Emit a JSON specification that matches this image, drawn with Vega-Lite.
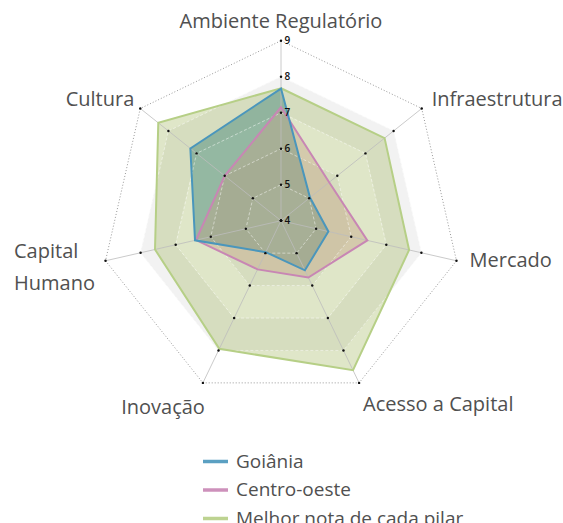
{
  "$schema": "https://vega.github.io/schema/vega-lite/v6.json",
  "width": 563,
  "height": 523,
  "autosize": {"type": "none"},
  "padding": 0,
  "background": "#ffffff",
  "config": {"view": {"stroke": null}},
  "datasets": {
    "scores": [
      {"serie": "Goiânia", "pilar": "Ambiente Regulatório", "idx": 0, "valor": 7.67},
      {"serie": "Goiânia", "pilar": "Infraestrutura", "idx": 1, "valor": 5.03},
      {"serie": "Goiânia", "pilar": "Mercado", "idx": 2, "valor": 5.35},
      {"serie": "Goiânia", "pilar": "Acesso a Capital", "idx": 3, "valor": 5.53},
      {"serie": "Goiânia", "pilar": "Inovação", "idx": 4, "valor": 4.97},
      {"serie": "Goiânia", "pilar": "Capital Humano", "idx": 5, "valor": 6.45},
      {"serie": "Goiânia", "pilar": "Cultura", "idx": 6, "valor": 7.22},
      {"serie": "Centro-oeste", "pilar": "Ambiente Regulatório", "idx": 0, "valor": 7.15},
      {"serie": "Centro-oeste", "pilar": "Infraestrutura", "idx": 1, "valor": 5.71},
      {"serie": "Centro-oeste", "pilar": "Mercado", "idx": 2, "valor": 6.46},
      {"serie": "Centro-oeste", "pilar": "Acesso a Capital", "idx": 3, "valor": 5.75},
      {"serie": "Centro-oeste", "pilar": "Inovação", "idx": 4, "valor": 5.5},
      {"serie": "Centro-oeste", "pilar": "Capital Humano", "idx": 5, "valor": 6.42},
      {"serie": "Centro-oeste", "pilar": "Cultura", "idx": 6, "valor": 6.0},
      {"serie": "Melhor nota de cada pilar", "pilar": "Ambiente Regulatório", "idx": 0, "valor": 7.68},
      {"serie": "Melhor nota de cada pilar", "pilar": "Infraestrutura", "idx": 1, "valor": 7.68},
      {"serie": "Melhor nota de cada pilar", "pilar": "Mercado", "idx": 2, "valor": 7.65},
      {"serie": "Melhor nota de cada pilar", "pilar": "Acesso a Capital", "idx": 3, "valor": 8.61},
      {"serie": "Melhor nota de cada pilar", "pilar": "Inovação", "idx": 4, "valor": 7.95},
      {"serie": "Melhor nota de cada pilar", "pilar": "Capital Humano", "idx": 5, "valor": 7.59},
      {"serie": "Melhor nota de cada pilar", "pilar": "Cultura", "idx": 6, "valor": 8.36}
    ],
    "pilares": [
      {"idx": 0, "pilar": "Ambiente Regulatório", "rings": [4, 5, 6, 7, 8, 9]},
      {"idx": 1, "pilar": "Infraestrutura", "rings": [4, 5, 6, 7, 8, 9]},
      {"idx": 2, "pilar": "Mercado", "rings": [4, 5, 6, 7, 8, 9]},
      {"idx": 3, "pilar": "Acesso a Capital", "rings": [4, 5, 6, 7, 8, 9]},
      {"idx": 4, "pilar": "Inovação", "rings": [4, 5, 6, 7, 8, 9]},
      {"idx": 5, "pilar": "Capital Humano", "rings": [4, 5, 6, 7, 8, 9]},
      {"idx": 6, "pilar": "Cultura", "rings": [4, 5, 6, 7, 8, 9]}
    ]
  },
  "layer": [
    {
      "data": {"name": "pilares"},
      "transform": [
        {"flatten": ["rings"], "as": ["ring"]},
        {"filter": "datum.ring == 8"},
        {"calculate": "datum.idx*2*PI/7", "as": "a"},
        {"calculate": "(datum.ring-4)*sin(datum.a)", "as": "px"},
        {"calculate": "(datum.ring-4)*cos(datum.a)", "as": "py"}
      ],
      "mark": {"type": "line", "interpolate": "linear-closed", "fill": "#f2f2f2", "stroke": "#f2f2f2", "strokeWidth": 0.5},
      "encoding": {
        "x": {"field": "px", "type": "quantitative", "scale": {"domain": [-7.8056, 7.8333], "nice": false, "zero": false}, "axis": null},
        "y": {"field": "py", "type": "quantitative", "scale": {"domain": [-8.397, 6.131], "nice": false, "zero": false}, "axis": null},
        "order": {"field": "idx", "type": "quantitative"}
      }
    },
    {
      "data": {"name": "pilares"},
      "transform": [
        {"flatten": ["rings"], "as": ["ring"]},
        {"filter": "datum.ring == 7"},
        {"calculate": "datum.idx*2*PI/7", "as": "a"},
        {"calculate": "(datum.ring-4)*sin(datum.a)", "as": "px"},
        {"calculate": "(datum.ring-4)*cos(datum.a)", "as": "py"}
      ],
      "mark": {"type": "line", "interpolate": "linear-closed", "fill": "#ffffff", "stroke": "#ffffff", "strokeWidth": 0.5},
      "encoding": {
        "x": {"field": "px", "type": "quantitative", "axis": null},
        "y": {"field": "py", "type": "quantitative", "axis": null},
        "order": {"field": "idx", "type": "quantitative"}
      }
    },
    {
      "data": {"name": "pilares"},
      "transform": [
        {"flatten": ["rings"], "as": ["ring"]},
        {"filter": "datum.ring == 6"},
        {"calculate": "datum.idx*2*PI/7", "as": "a"},
        {"calculate": "(datum.ring-4)*sin(datum.a)", "as": "px"},
        {"calculate": "(datum.ring-4)*cos(datum.a)", "as": "py"}
      ],
      "mark": {"type": "line", "interpolate": "linear-closed", "fill": "#f2f2f2", "stroke": "#f2f2f2", "strokeWidth": 0.5},
      "encoding": {
        "x": {"field": "px", "type": "quantitative", "axis": null},
        "y": {"field": "py", "type": "quantitative", "axis": null},
        "order": {"field": "idx", "type": "quantitative"}
      }
    },
    {
      "data": {"name": "pilares"},
      "transform": [
        {"flatten": ["rings"], "as": ["ring"]},
        {"filter": "datum.ring == 5"},
        {"calculate": "datum.idx*2*PI/7", "as": "a"},
        {"calculate": "(datum.ring-4)*sin(datum.a)", "as": "px"},
        {"calculate": "(datum.ring-4)*cos(datum.a)", "as": "py"}
      ],
      "mark": {"type": "line", "interpolate": "linear-closed", "fill": "#ffffff", "stroke": "#ffffff", "strokeWidth": 0.5},
      "encoding": {
        "x": {"field": "px", "type": "quantitative", "axis": null},
        "y": {"field": "py", "type": "quantitative", "axis": null},
        "order": {"field": "idx", "type": "quantitative"}
      }
    },
    {
      "data": {"name": "scores"},
      "transform": [
        {"filter": "datum.serie == 'Goiânia'"},
        {"calculate": "datum.idx*2*PI/7", "as": "a"},
        {"calculate": "(datum.valor-4)*sin(datum.a)", "as": "px"},
        {"calculate": "(datum.valor-4)*cos(datum.a)", "as": "py"}
      ],
      "mark": {"type": "line", "interpolate": "linear-closed", "fill": "#2f7f95", "fillOpacity": 0.55, "strokeWidth": 0},
      "encoding": {
        "x": {"field": "px", "type": "quantitative", "axis": null},
        "y": {"field": "py", "type": "quantitative", "axis": null},
        "order": {"field": "idx", "type": "quantitative"}
      }
    },
    {
      "data": {"name": "scores"},
      "transform": [
        {"filter": "datum.serie == 'Centro-oeste'"},
        {"calculate": "datum.idx*2*PI/7", "as": "a"},
        {"calculate": "(datum.valor-4)*sin(datum.a)", "as": "px"},
        {"calculate": "(datum.valor-4)*cos(datum.a)", "as": "py"}
      ],
      "mark": {"type": "line", "interpolate": "linear-closed", "fill": "#d79696", "fillOpacity": 0.4, "strokeWidth": 0},
      "encoding": {
        "x": {"field": "px", "type": "quantitative", "axis": null},
        "y": {"field": "py", "type": "quantitative", "axis": null},
        "order": {"field": "idx", "type": "quantitative"}
      }
    },
    {
      "data": {"name": "scores"},
      "transform": [
        {"filter": "datum.serie == 'Melhor nota de cada pilar'"},
        {"calculate": "datum.idx*2*PI/7", "as": "a"},
        {"calculate": "(datum.valor-4)*sin(datum.a)", "as": "px"},
        {"calculate": "(datum.valor-4)*cos(datum.a)", "as": "py"}
      ],
      "mark": {"type": "line", "interpolate": "linear-closed", "fill": "#a4b862", "fillOpacity": 0.35, "strokeWidth": 0},
      "encoding": {
        "x": {"field": "px", "type": "quantitative", "axis": null},
        "y": {"field": "py", "type": "quantitative", "axis": null},
        "order": {"field": "idx", "type": "quantitative"}
      }
    },
    {
      "data": {"name": "pilares"},
      "transform": [
        {"calculate": "datum.idx*2*PI/7", "as": "a"},
        {"calculate": "0", "as": "ox"},
        {"calculate": "0", "as": "oy"},
        {"calculate": "5*sin(datum.a)", "as": "sx"},
        {"calculate": "5*cos(datum.a)", "as": "sy"}
      ],
      "mark": {"type": "rule", "color": "#bdbdbd", "strokeWidth": 0.8},
      "encoding": {
        "x": {"field": "ox", "type": "quantitative", "axis": null},
        "y": {"field": "oy", "type": "quantitative", "axis": null},
        "x2": {"field": "sx"},
        "y2": {"field": "sy"}
      }
    },
    {
      "data": {"name": "pilares"},
      "transform": [
        {"flatten": ["rings"], "as": ["ring"]},
        {"filter": "datum.ring >= 5 && datum.ring <= 8"},
        {"calculate": "datum.idx*2*PI/7", "as": "a"},
        {"calculate": "(datum.ring-4)*sin(datum.a)", "as": "px"},
        {"calculate": "(datum.ring-4)*cos(datum.a)", "as": "py"}
      ],
      "mark": {"type": "line", "interpolate": "linear-closed", "color": "#ffffff", "strokeWidth": 0.8, "strokeDash": [3, 2], "opacity": 0.6},
      "encoding": {
        "x": {"field": "px", "type": "quantitative", "axis": null},
        "y": {"field": "py", "type": "quantitative", "axis": null},
        "detail": {"field": "ring", "type": "nominal"},
        "order": {"field": "idx", "type": "quantitative"}
      }
    },
    {
      "data": {"name": "pilares"},
      "transform": [
        {"flatten": ["rings"], "as": ["ring"]},
        {"filter": "datum.ring == 9"},
        {"calculate": "datum.idx*2*PI/7", "as": "a"},
        {"calculate": "(datum.ring-4)*sin(datum.a)", "as": "px"},
        {"calculate": "(datum.ring-4)*cos(datum.a)", "as": "py"}
      ],
      "mark": {"type": "line", "interpolate": "linear-closed", "color": "#999999", "strokeWidth": 1, "strokeDash": [1, 2]},
      "encoding": {
        "x": {"field": "px", "type": "quantitative", "axis": null},
        "y": {"field": "py", "type": "quantitative", "axis": null},
        "order": {"field": "idx", "type": "quantitative"}
      }
    },
    {
      "data": {"name": "scores"},
      "transform": [
        {"filter": "datum.serie == 'Melhor nota de cada pilar'"},
        {"calculate": "datum.idx*2*PI/7", "as": "a"},
        {"calculate": "(datum.valor-4)*sin(datum.a)", "as": "px"},
        {"calculate": "(datum.valor-4)*cos(datum.a)", "as": "py"}
      ],
      "mark": {"type": "line", "interpolate": "linear-closed", "strokeWidth": 2},
      "encoding": {
        "x": {"field": "px", "type": "quantitative", "axis": null},
        "y": {"field": "py", "type": "quantitative", "axis": null},
        "order": {"field": "idx", "type": "quantitative"},
        "color": {
          "field": "serie", "type": "nominal",
          "scale": {"domain": ["Goiânia", "Centro-oeste", "Melhor nota de cada pilar"], "range": ["#4a96bc", "#c886b4", "#b6cf86"]},
          "legend": {
            "title": null, "orient": "none", "legendX": 201, "legendY": 447,
            "symbolType": "stroke", "symbolSize": 625, "symbolStrokeWidth": 3.5,
            "labelFont": "Open Sans", "labelFontSize": 19, "labelFontWeight": 500, "labelColor": "#505050",
            "labelOffset": 6, "labelLimit": 400, "rowPadding": 3.5, "padding": 0, "symbolOpacity": 0.9
          }
        }
      }
    },
    {
      "data": {"name": "scores"},
      "transform": [
        {"filter": "datum.serie == 'Centro-oeste'"},
        {"calculate": "datum.idx*2*PI/7", "as": "a"},
        {"calculate": "(datum.valor-4)*sin(datum.a)", "as": "px"},
        {"calculate": "(datum.valor-4)*cos(datum.a)", "as": "py"}
      ],
      "mark": {"type": "line", "interpolate": "linear-closed", "strokeWidth": 2},
      "encoding": {
        "x": {"field": "px", "type": "quantitative", "axis": null},
        "y": {"field": "py", "type": "quantitative", "axis": null},
        "order": {"field": "idx", "type": "quantitative"},
        "color": {"field": "serie", "type": "nominal"}
      }
    },
    {
      "data": {"name": "scores"},
      "transform": [
        {"filter": "datum.serie == 'Goiânia'"},
        {"calculate": "datum.idx*2*PI/7", "as": "a"},
        {"calculate": "(datum.valor-4)*sin(datum.a)", "as": "px"},
        {"calculate": "(datum.valor-4)*cos(datum.a)", "as": "py"}
      ],
      "mark": {"type": "line", "interpolate": "linear-closed", "strokeWidth": 2},
      "encoding": {
        "x": {"field": "px", "type": "quantitative", "axis": null},
        "y": {"field": "py", "type": "quantitative", "axis": null},
        "order": {"field": "idx", "type": "quantitative"},
        "color": {"field": "serie", "type": "nominal"}
      }
    },
    {
      "data": {"name": "pilares"},
      "transform": [
        {"flatten": ["rings"], "as": ["ring"]},
        {"calculate": "datum.idx*2*PI/7", "as": "a"},
        {"calculate": "(datum.ring-4)*sin(datum.a)", "as": "px"},
        {"calculate": "(datum.ring-4)*cos(datum.a)", "as": "py"}
      ],
      "mark": {"type": "point", "filled": true, "color": "#111111", "size": 6, "opacity": 1},
      "encoding": {
        "x": {"field": "px", "type": "quantitative", "axis": null},
        "y": {"field": "py", "type": "quantitative", "axis": null}
      }
    },
    {
      "data": {"name": "pilares"},
      "transform": [
        {"filter": "datum.idx == 0"},
        {"flatten": ["rings"], "as": ["ring"]},
        {"calculate": "0", "as": "px"},
        {"calculate": "datum.ring-4", "as": "py"}
      ],
      "mark": {"type": "text", "align": "left", "baseline": "middle", "dx": 3.5, "font": "Open Sans", "fontSize": 10, "fontWeight": 600, "color": "#111111"},
      "encoding": {
        "x": {"field": "px", "type": "quantitative", "axis": null},
        "y": {"field": "py", "type": "quantitative", "axis": null},
        "text": {"field": "ring", "type": "nominal"}
      }
    },
    {
      "data": {"name": "pilares"},
      "transform": [
        {"filter": "datum.idx == 0"},
        {"calculate": "datum.idx*2*PI/7", "as": "a"},
        {"calculate": "5*sin(datum.a)", "as": "px"},
        {"calculate": "5*cos(datum.a)", "as": "py"}
      ],
      "mark": {"type": "text", "align": "center", "baseline": "middle", "dy": -19, "font": "Open Sans", "fontSize": 20, "fontWeight": 500, "color": "#505050"},
      "encoding": {
        "x": {"field": "px", "type": "quantitative", "axis": null},
        "y": {"field": "py", "type": "quantitative", "axis": null},
        "text": {"field": "pilar", "type": "nominal"}
      }
    },
    {
      "data": {"name": "pilares"},
      "transform": [
        {"filter": "datum.idx == 1"},
        {"calculate": "datum.idx*2*PI/7", "as": "a"},
        {"calculate": "5*sin(datum.a)", "as": "px"},
        {"calculate": "5*cos(datum.a)", "as": "py"}
      ],
      "mark": {"type": "text", "align": "left", "baseline": "middle", "dx": 10, "dy": -8, "font": "Open Sans", "fontSize": 20, "fontWeight": 500, "color": "#505050"},
      "encoding": {
        "x": {"field": "px", "type": "quantitative", "axis": null},
        "y": {"field": "py", "type": "quantitative", "axis": null},
        "text": {"field": "pilar", "type": "nominal"}
      }
    },
    {
      "data": {"name": "pilares"},
      "transform": [
        {"filter": "datum.idx == 2"},
        {"calculate": "datum.idx*2*PI/7", "as": "a"},
        {"calculate": "5*sin(datum.a)", "as": "px"},
        {"calculate": "5*cos(datum.a)", "as": "py"}
      ],
      "mark": {"type": "text", "align": "left", "baseline": "middle", "dx": 13, "dy": 0, "font": "Open Sans", "fontSize": 20, "fontWeight": 500, "color": "#505050"},
      "encoding": {
        "x": {"field": "px", "type": "quantitative", "axis": null},
        "y": {"field": "py", "type": "quantitative", "axis": null},
        "text": {"field": "pilar", "type": "nominal"}
      }
    },
    {
      "data": {"name": "pilares"},
      "transform": [
        {"filter": "datum.idx == 3"},
        {"calculate": "datum.idx*2*PI/7", "as": "a"},
        {"calculate": "5*sin(datum.a)", "as": "px"},
        {"calculate": "5*cos(datum.a)", "as": "py"}
      ],
      "mark": {"type": "text", "align": "left", "baseline": "middle", "dx": 4, "dy": 22, "font": "Open Sans", "fontSize": 20, "fontWeight": 500, "color": "#505050"},
      "encoding": {
        "x": {"field": "px", "type": "quantitative", "axis": null},
        "y": {"field": "py", "type": "quantitative", "axis": null},
        "text": {"field": "pilar", "type": "nominal"}
      }
    },
    {
      "data": {"name": "pilares"},
      "transform": [
        {"filter": "datum.idx == 4"},
        {"calculate": "datum.idx*2*PI/7", "as": "a"},
        {"calculate": "5*sin(datum.a)", "as": "px"},
        {"calculate": "5*cos(datum.a)", "as": "py"}
      ],
      "mark": {"type": "text", "align": "right", "baseline": "middle", "dx": 2, "dy": 25, "font": "Open Sans", "fontSize": 20, "fontWeight": 500, "color": "#505050"},
      "encoding": {
        "x": {"field": "px", "type": "quantitative", "axis": null},
        "y": {"field": "py", "type": "quantitative", "axis": null},
        "text": {"field": "pilar", "type": "nominal"}
      }
    },
    {
      "data": {"name": "pilares"},
      "transform": [
        {"filter": "datum.idx == 5"},
        {"calculate": "datum.idx*2*PI/7", "as": "a"},
        {"calculate": "5*sin(datum.a)", "as": "px"},
        {"calculate": "5*cos(datum.a)", "as": "py"}
      ],
      "mark": {"type": "text", "align": "left", "baseline": "middle", "dx": -91.5, "dy": -9, "lineBreak": " ", "lineHeight": 32, "font": "Open Sans", "fontSize": 20, "fontWeight": 500, "color": "#505050"},
      "encoding": {
        "x": {"field": "px", "type": "quantitative", "axis": null},
        "y": {"field": "py", "type": "quantitative", "axis": null},
        "text": {"field": "pilar", "type": "nominal"}
      }
    },
    {
      "data": {"name": "pilares"},
      "transform": [
        {"filter": "datum.idx == 6"},
        {"calculate": "datum.idx*2*PI/7", "as": "a"},
        {"calculate": "5*sin(datum.a)", "as": "px"},
        {"calculate": "5*cos(datum.a)", "as": "py"}
      ],
      "mark": {"type": "text", "align": "right", "baseline": "middle", "dx": -6, "dy": -8, "font": "Open Sans", "fontSize": 20, "fontWeight": 500, "color": "#505050"},
      "encoding": {
        "x": {"field": "px", "type": "quantitative", "axis": null},
        "y": {"field": "py", "type": "quantitative", "axis": null},
        "text": {"field": "pilar", "type": "nominal"}
      }
    }
  ]
}
